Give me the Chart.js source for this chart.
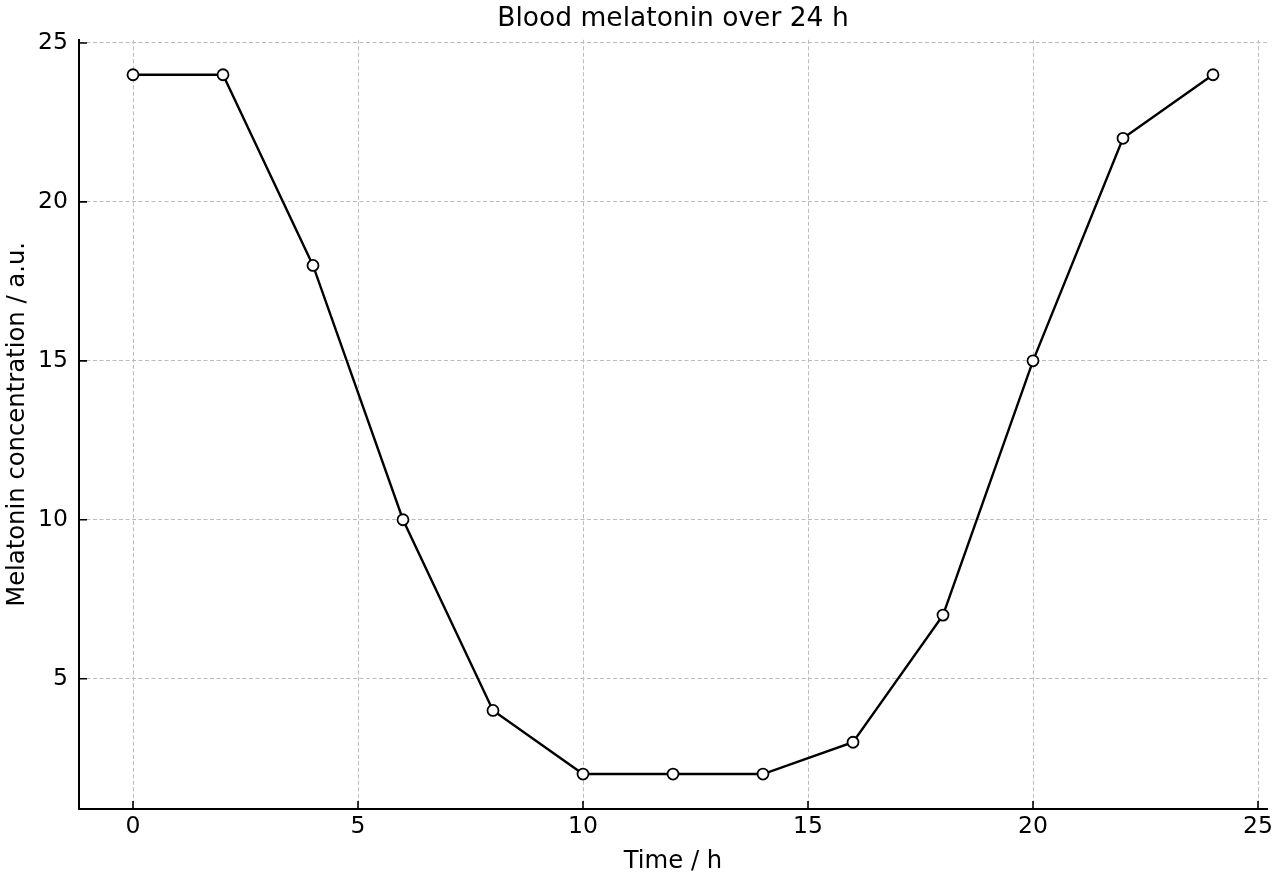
<!DOCTYPE html>
<html>
<head>
    <meta charset='utf-8'>
    <title>Melatonin</title>
    <style>
        body { margin: 0; background: #fff; }
    </style>
</head>
<body>
    <canvas id="myChart" width="1280" height="880"></canvas>

    <script src="https://cdn.jsdelivr.net/npm/chart.js"></script>

    <script>
const hours = [0, 2, 4, 6, 8, 10, 12, 14, 16, 18, 20, 22, 24];
const melatonin = [24, 24, 18, 10, 4, 2, 2, 2, 3, 7, 15, 22, 24];
const xTicks = [0, 5, 10, 15, 20, 25];
const yTicks = [5, 10, 15, 20, 25];

const font = 'DejaVu Sans';

// matplotlib style ticks pointing into the plot
const inwardTicks = {
    id: 'inwardTicks',
    beforeDatasetsDraw(chart) {
        const ctx = chart.ctx;
        const area = chart.chartArea;
        const x = chart.scales.x, y = chart.scales.y;
        ctx.save();
        ctx.strokeStyle = '#000';
        ctx.lineWidth = 1.6;
        ctx.beginPath();
        for (const v of xTicks) {
            const px = x.getPixelForValue(v);
            ctx.moveTo(px, area.bottom);
            ctx.lineTo(px, area.bottom - 8);
        }
        for (const v of yTicks) {
            const py = y.getPixelForValue(v);
            ctx.moveTo(area.left, py);
            ctx.lineTo(area.left + 8, py);
        }
        ctx.stroke();
        ctx.restore();
    }
};

new Chart(document.getElementById('myChart'), {
    type: 'line',
    data: {
        datasets: [{
            label: 'Melatonin',
            data: hours.map((h, i) => ({x: h, y: melatonin[i]})),
            borderColor: '#000',
            borderWidth: 2.4,
            tension: 0,
            pointRadius: 5.5,
            pointBorderWidth: 1.8,
            pointBackgroundColor: '#fff',
            pointBorderColor: '#000'
        }]
    },
    options: {
        responsive: false,
        animation: false,
        layout: { padding: { left: 0, right: 13, top: 0, bottom: 0 } },
        plugins: {
            legend: { display: false },
            tooltip: { enabled: false },
            title: {
                display: true,
                fullSize: false,
                text: 'Blood melatonin over 24 h',
                color: '#000',
                font: { family: font, size: 26.5, weight: 'normal' },
                padding: { top: 3.5, bottom: 4.5 }
            }
        },
        scales: {
            x: {
                type: 'linear',
                min: -1.2,
                max: 25.2,
                afterBuildTicks: s => { s.ticks = xTicks.map(v => ({value: v})); },
                afterFit: s => { s.height = 71; s.paddingLeft = 0; s.paddingRight = 0; },
                grid: { color: '#bbbbbb', lineWidth: 1, drawTicks: false },
                border: { display: true, color: '#000', width: 2, dash: [4, 2.5] },
                ticks: {
                    color: '#000',
                    padding: 4,
                    maxRotation: 0,
                    font: { family: font, size: 23.5 }
                },
                title: {
                    display: true,
                    text: 'Time / h',
                    color: '#000',
                    font: { family: font, size: 24.3 },
                    padding: { top: 0, bottom: 4 }
                }
            },
            y: {
                type: 'linear',
                min: 0.9,
                max: 25.1,
                afterBuildTicks: s => { s.ticks = yTicks.map(v => ({value: v})); },
                afterFit: s => { s.width = 79; s.paddingTop = 0; s.paddingBottom = 0; },
                grid: { color: '#bbbbbb', lineWidth: 1, drawTicks: false },
                border: { display: true, color: '#000', width: 2, dash: [4, 2.5] },
                ticks: {
                    color: '#000',
                    padding: 11,
                    font: { family: font, size: 23.5 }
                },
                title: {
                    display: true,
                    text: 'Melatonin concentration / a.u.',
                    color: '#000',
                    font: { family: font, size: 24.3 },
                    padding: { top: 3, bottom: 0 }
                }
            }
        }
    },
    plugins: [inwardTicks]
});
    </script>
</body>
</html>
